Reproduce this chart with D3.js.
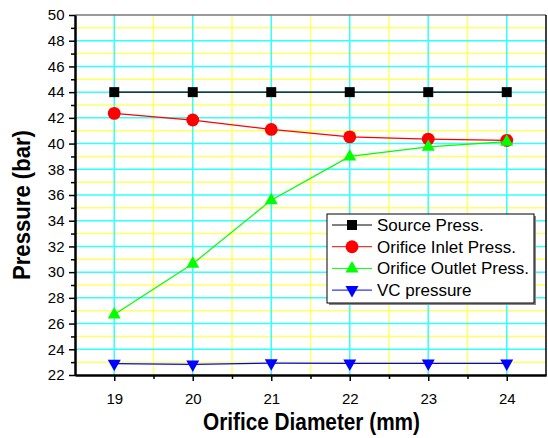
<!DOCTYPE html>
<html>
<head>
<meta charset="utf-8">
<script src="https://cdn.jsdelivr.net/npm/d3@7"></script>
<style>
body{margin:0;background:#fff;}
text{font-family:"Liberation Sans",Arial,sans-serif;}
</style>
</head>
<body>
<svg width="548" height="438"></svg>
<script>
var diameters = [19, 20, 21, 22, 23, 24];
var sourcePress = [44, 44, 44, 44, 44, 44];
var inletPress = [42.35, 41.83, 41.1, 40.52, 40.35, 40.25];
var outletPress = [26.7, 30.65, 35.6, 39.0, 39.75, 40.15];
var vcPress = [22.88, 22.82, 22.92, 22.9, 22.9, 22.9];
var seriesNames = ["Source Press.", "Orifice Inlet Press.", "Orifice Outlet Press.", "VC pressure"];
var yTicks = [22, 24, 26, 28, 30, 32, 34, 36, 38, 40, 42, 44, 46, 48, 50];

var series = [
  {name: seriesNames[0], values: sourcePress, color: "#000000", shape: d3.symbolSquare},
  {name: seriesNames[1], values: inletPress, color: "#ff0000", shape: d3.symbolCircle},
  {name: seriesNames[2], values: outletPress, color: "#00ff00", shape: "up"},
  {name: seriesNames[3], values: vcPress, color: "#0000ff", shape: "down"}
];

var svg = d3.select("svg");
var pLeft = 75, pRight = 546, pTop = 15, pBottom = 375;

var x = d3.scaleLinear().domain([18.5, 24.5]).range([pLeft, pRight]);
var y = d3.scaleLinear().domain([22, 50]).range([pBottom, pTop]);

var minorX = d3.range(19.5, 24.5, 1);
var minorY = d3.range(23, 50, 2);

var grid = svg.append("g");
grid.selectAll(".gxm").data(minorX).enter().append("line")
  .attr("x1", d => x(d)).attr("x2", d => x(d)).attr("y1", pTop).attr("y2", pBottom)
  .attr("stroke", "#ffff66").attr("stroke-width", 1.5);
grid.selectAll(".gym").data(minorY).enter().append("line")
  .attr("x1", pLeft).attr("x2", pRight).attr("y1", d => y(d)).attr("y2", d => y(d))
  .attr("stroke", "#ffff66").attr("stroke-width", 1.5);
grid.selectAll(".gx").data(diameters).enter().append("line")
  .attr("x1", d => x(d)).attr("x2", d => x(d)).attr("y1", pTop).attr("y2", pBottom)
  .attr("stroke", "#33ffff").attr("stroke-width", 1.5);
grid.selectAll(".gy").data(yTicks.slice(1, -1)).enter().append("line")
  .attr("x1", pLeft).attr("x2", pRight).attr("y1", d => y(d)).attr("y2", d => y(d))
  .attr("stroke", "#33ffff").attr("stroke-width", 1.5);

// frame
svg.append("line").attr("x1", pLeft).attr("x2", pRight).attr("y1", pTop).attr("y2", pTop)
  .attr("stroke", "#777").attr("stroke-width", 1.5);
svg.append("line").attr("x1", pRight).attr("x2", pRight).attr("y1", pTop).attr("y2", pBottom)
  .attr("stroke", "#000").attr("stroke-width", 1.5);

// axes
var xAxis = svg.append("g").attr("transform", "translate(0," + pBottom + ")")
  .call(d3.axisBottom(x).tickValues(diameters).tickFormat(d3.format("d")).tickSize(6).tickSizeOuter(0));
var xMinor = svg.append("g").attr("transform", "translate(0," + pBottom + ")")
  .call(d3.axisBottom(x).tickValues(minorX).tickFormat("").tickSize(4).tickSizeOuter(0));
var yAxis = svg.append("g").attr("transform", "translate(" + pLeft + ",0)")
  .call(d3.axisLeft(y).tickValues(yTicks).tickFormat(d3.format("d")).tickSize(6).tickSizeOuter(0));
var yMinor = svg.append("g").attr("transform", "translate(" + pLeft + ",0)")
  .call(d3.axisLeft(y).tickValues(minorY).tickFormat("").tickSize(4).tickSizeOuter(0));

[xAxis, xMinor, yAxis, yMinor].forEach(function(a) {
  a.attr("font-size", 15).attr("font-family", "'Liberation Sans', Arial, sans-serif");
  a.select(".domain").attr("stroke", "#000").attr("stroke-width", 2);
  a.selectAll(".tick line").attr("stroke", "#000").attr("stroke-width", 1.5);
  a.selectAll("text").attr("fill", "#000");
});
xAxis.selectAll("text").attr("dy", "1.35em");
yAxis.selectAll("text").attr("dx", "-0.1em");

// axis titles
svg.append("text").attr("x", 311.5).attr("y", 430).attr("text-anchor", "middle")
  .attr("font-size", 23).attr("font-weight", "bold")
  .attr("textLength", 217).attr("lengthAdjust", "spacingAndGlyphs")
  .text("Orifice Diameter (mm)");
svg.append("text").attr("transform", "translate(30,205) rotate(-90)").attr("text-anchor", "middle")
  .attr("font-size", 23).attr("font-weight", "bold")
  .attr("textLength", 150).attr("lengthAdjust", "spacingAndGlyphs")
  .text("Pressure (bar)");

function marker(sel, shape, color, cx, cy) {
  if (shape === "up" || shape === "down") {
    var s = shape === "up" ? -1 : 1;
    sel.append("path")
      .attr("d", "M" + (cx - 6.5) + "," + (cy - s * 4) + "L" + (cx + 6.5) + "," + (cy - s * 4) + "L" + cx + "," + (cy + s * 7.5) + "Z")
      .attr("fill", color);
  } else {
    var size = shape === d3.symbolSquare ? 100 : 130;
    sel.append("path").attr("transform", "translate(" + cx + "," + cy + ")")
      .attr("d", d3.symbol().type(shape).size(size)()).attr("fill", color);
  }
}

var line = d3.line().x((d, i) => x(diameters[i])).y(d => y(d));

series.forEach(function(s) {
  var g = svg.append("g");
  g.append("path").datum(s.values).attr("d", line)
    .attr("fill", "none").attr("stroke", s.color).attr("stroke-width", 1.2);
  s.values.forEach(function(v, i) {
    marker(g, s.shape, s.color, x(diameters[i]), y(v));
  });
});

// legend
var lg = svg.append("g");
lg.append("rect").attr("x", 329).attr("y", 216).attr("width", 207).attr("height", 89).attr("fill", "#888");
lg.append("rect").attr("x", 327).attr("y", 214).attr("width", 207).attr("height", 89)
  .attr("fill", "#fff").attr("stroke", "#000").attr("stroke-width", 1);
series.forEach(function(s, i) {
  var ly = 225 + i * 21.7;
  lg.append("line").attr("x1", 332).attr("x2", 372).attr("y1", ly).attr("y2", ly)
    .attr("stroke", s.color).attr("stroke-width", 1);
  marker(lg, s.shape, s.color, 352, ly);
  lg.append("text").attr("x", 377).attr("y", ly + 6).attr("font-size", 17).text(s.name);
});
</script>
</body>
</html>
